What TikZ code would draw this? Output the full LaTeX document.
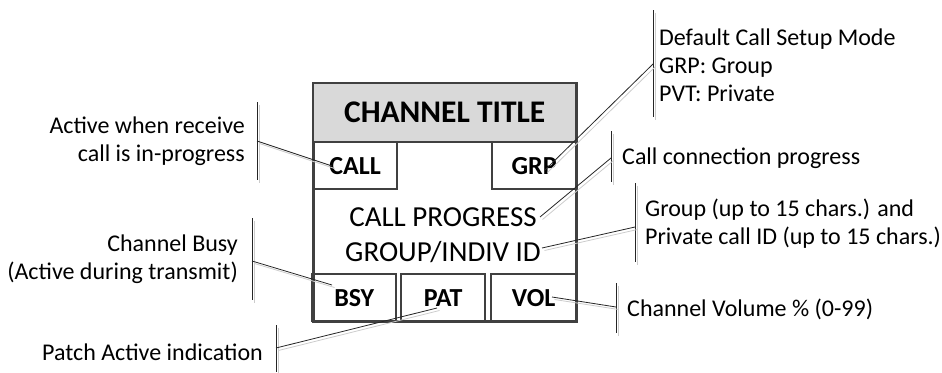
\documentclass[tikz,border=0pt]{standalone}
\usepackage{fontspec}
\setmainfont{Carlito}
\definecolor{titlegray}{HTML}{D9D9D9}
\definecolor{edge}{HTML}{404040}
\begin{document}
\begin{tikzpicture}[x=1pt,y=-1pt,
  frame/.style={draw=edge, line width=2.6pt, inner sep=0pt, anchor=north west},
  cell/.style={draw=edge, line width=2.4pt, inner sep=0pt, anchor=north west,
    font=\fontsize{26}{30}\selectfont\bfseries},
  lbl/.style={inner sep=0pt, font=\fontsize{24}{28}\selectfont},
  bar/.style={draw=black!85, line width=0.8pt,
    preaction={draw=black!20, line width=0.8pt, transform canvas={shift={(2.5pt,-2.5pt)}}}},
]
\useasboundingbox (0,0) rectangle (942,372);

% display panel
\node[frame, minimum width=263pt, minimum height=238pt] (panel) at (312,82) {};
\node[cell, fill=titlegray, minimum width=263pt, minimum height=59pt,
  font=\fontsize{31.5}{35}\selectfont\bfseries] (title) at (312,82) {CHANNEL TITLE};
\node[cell, minimum width=84pt, minimum height=47pt] (call) at (312,141) {CALL};
\node[cell, minimum width=84pt, minimum height=47pt] (grp) at (491,141) {GRP};
\node[cell, minimum width=84pt, minimum height=47pt] (bsy) at (311,273) {BSY};
\node[cell, minimum width=84pt, minimum height=47pt] (pat) at (400,273) {PAT};
\node[cell, minimum width=85pt, minimum height=47pt] (vol) at (490,273) {VOL};
\node[inner sep=0pt, align=center, font=\fontsize{29}{35}\selectfont] (prog) at (443,235)
  {CALL PROGRESS\\GROUP/INDIV ID};

% leader tips inside the panel
\coordinate (callTip) at (332,166);
\coordinate (grpTip) at (545,170);
\coordinate (progTip) at (540,217);
\coordinate (idTip) at (542,248);
\coordinate (bsyTip) at (332,285);
\coordinate (patTip) at (437,308);
\coordinate (volTip) at (552,297);

% accent bars with their leader joints
\coordinate (aTop) at (257,102); \coordinate (aBot) at (257,180); \coordinate (aJoin) at (257,141);
\coordinate (bTop) at (252,218); \coordinate (bBot) at (252,300); \coordinate (bJoin) at (252,261);
\coordinate (pTop) at (276,325); \coordinate (pBot) at (276,372); \coordinate (pJoin) at (276,348);
\coordinate (dTop) at (653,10);  \coordinate (dBot) at (653,117); \coordinate (dJoin) at (653,64);
\coordinate (cTop) at (611,131); \coordinate (cBot) at (611,182); \coordinate (cJoin) at (611,158);
\coordinate (gTop) at (635,183); \coordinate (gBot) at (635,262); \coordinate (gJoin) at (635,227);
\coordinate (vTop) at (616,283); \coordinate (vBot) at (616,333); \coordinate (vJoin) at (616,307);

\foreach \k in {a,b,p,d,c,g,v} {\draw[bar] (\k Top) -- (\k Bot);}
\draw[bar] (aJoin) -- (callTip);
\draw[bar] (bJoin) -- (bsyTip);
\draw[bar] (pJoin) -- (patTip);
\draw[bar] (dJoin) -- (grpTip);
\draw[bar] (cJoin) -- (progTip);
\draw[bar] (gJoin) -- (idTip);
\draw[bar] (vJoin) -- (volTip);

% callout texts
\node[lbl, anchor=east, align=right] (actTxt) at (245,141) {Active when receive\\call is in-progress};
\node[lbl, anchor=east, align=right] (busyTxt) at (238,259) {Channel Busy\\(Active during transmit)};
\node[lbl, anchor=east] (patchTxt) at (263,352) {Patch Active indication};
\node[lbl, anchor=west, align=left] (modeTxt) at (659,65) {Default Call Setup Mode\\GRP: Group\\PVT: Private};
\node[lbl, anchor=west] (connTxt) at (622,158) {Call connection progress};
\node[lbl, anchor=west, align=left] (idTxt) at (645,224) {Group (up to 15 chars.) and\\Private call ID (up to 15 chars.)};
\node[lbl, anchor=west] (volTxt) at (627,309) {Channel Volume \% (0-99)};
\end{tikzpicture}
\end{document}
